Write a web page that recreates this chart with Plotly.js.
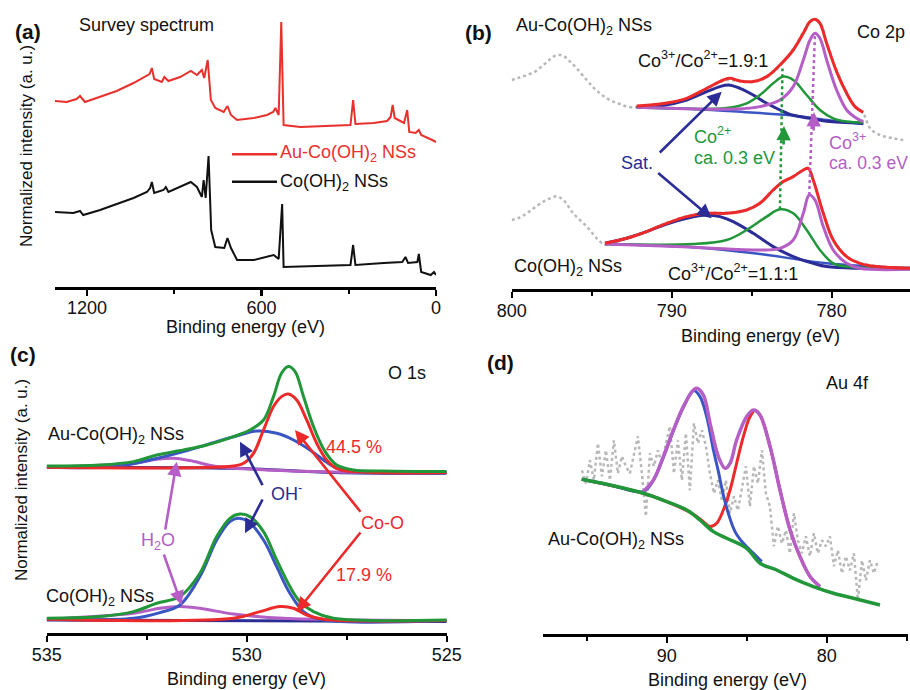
<!DOCTYPE html>
<html>
<head>
<meta charset="utf-8">
<script src="https://cdn.plot.ly/plotly-3.0.1.min.js"></script>
<style>html,body{margin:0;padding:0;background:#fff}#chart{width:910px;height:690px}</style>
</head>
<body>
<div id="chart"></div>
<script>
// ---------- (a) Survey spectrum ----------
const aE_red = [1310,1270,1236,1224,1207,1155,1098,1040,1000,985,977,969,943,934,920,880,843,822,805,797,785,779,774,759,730,717,705,684,627,581,560,552,541,532,524,466,351,294,285,277,214,168,156,149,142,110,99,92,70,59,51,24,13,0];
const aI_red = [186,185,188,191,185,190,196,204,210,213,219,208,205,210,206,210,216,212,217,209,227,207,187,179,175,181,172,167,169,172,175,179,172,265,162,160,161,162,187,163,164,166,170,182,169,164,177,155,154,157,152,149,147,145];
const aE_black = [1310,1247,1224,1213,1155,1098,1040,994,983,977,969,937,929,920,880,843,822,805,799,792,782,776,773,759,728,717,705,684,627,558,541,529,524,409,294,285,277,179,116,105,96,64,59,51,18,7,0];
const aI_black = [75,74,76,72,77,83,89,95,99,105,94,97,100,95,100,105,100,90,107,89,131,87,57,40,39,49,39,27,27,32,28,83,20,21,22,42,22,24,25,30,24,25,33,15,12,15,12];

// ---------- (b) Co 2p ----------
// Au-Co(OH)2 (upper)
const bE_rawU = [800.00,799.48,799.06,798.54,798.02,797.60,797.19,796.77,796.35,795.94,795.31,794.90,794.48,794.06,793.65,793.23,792.81,792.08,790.73,789.06,787.81,786.77,785.73,784.90,784.06,783.23,782.40,781.77,781.25,780.73,780.31,779.69,779.06,778.54,778.02,777.60,776.98,776.15,775.31];
const bI_rawU = [209.3,212,214.3,217.7,224.3,230,234.3,233.3,227.7,221,209.3,202,196,191,187.7,185.3,182.7,182,184.7,190.3,200.3,208.7,208.3,207.3,212,223.7,240,257.3,269.3,266.7,246.7,218.7,196.7,183.3,176,161,154.3,151,148.7];
const bE_sumU = [792.19,790.73,789.06,787.81,786.77,786.35,785.73,784.90,784.06,783.23,782.40,781.77,781.35,781.04,780.73,780.31,779.69,779.06,778.54,778.02];
const bI_sumU = [183.3,185.3,191,201,209.3,211,208.3,207.7,212.7,224.3,239.3,256,267.7,270,266,246,217.7,196,182.7,177];
const bE_bgU = [792.19,788.65,785.52,782.40,780.31,778.02];
const bI_bgU = [182,180.3,177.3,173.7,169.3,165.3];
const bE_satU = [792.19,790.73,789.06,787.81,786.98,786.46,785.73,784.90,784.06,783.23,782.40,781.35,780.31,778.02];
const bI_satU = [182,183.3,189.3,197.7,202.7,204.3,201,194.3,186,179.3,174,171,168,166];
const bE_co2U = [792.19,786.56,785.31,784.48,783.65,783.02,782.40,781.56,780.73,779.90,779.06,778.02];
const bI_co2U = [182,181.3,186,194.3,206,212.7,209.3,194.3,179.3,171,167.7,166.7];
const bE_co3U = [792.19,785.94,784.48,783.23,782.40,781.77,781.35,781.04,780.73,780.31,779.69,779.06,778.44,778.02];
const bI_co3U = [182,180.3,182.7,189.3,202.7,229.3,249.3,256,251,229.3,199.3,179.3,171,167.7];
// Co(OH)2 (lower)
const bE_rawL = [800.00,799.48,799.06,798.54,798.02,797.60,797.19,796.77,796.15,795.31,794.48,794.06,792.81,791.56,790.31,789.06,787.81,786.56,785.31,784.48,783.65,783.02,782.40,781.77,781.46,781.15,780.52,779.90,779.06,778.23,777.19,775.10];
const bI_rawL = [69.3,72,76,82,87.7,91,93,89.3,76,62.7,47.7,44.3,51.5,58,66.5,73,76.5,76.5,80,86.5,99.8,108,113,119.5,121.5,109.5,76.5,49.5,33,26.5,23,21.5];
const bE_sumL = [794.17,792.81,791.56,790.31,789.06,787.81,786.56,785.31,784.48,783.65,783.02,782.40,781.77,781.46,781.15,780.52,779.90,779.06,778.23,777.19,775.10];
const bI_sumL = [46,51,57.7,66,72.7,76,76,79.3,86,99.3,107.7,112.7,119.3,121,109.3,76,49.3,32.7,26,22.7,21];
const bE_bgL = [794.17,788.65,784.48,780.31,775.10];
const bI_bgL = [45.3,42,35.3,26,21];
const bE_satL = [794.17,792.81,791.56,790.31,789.06,787.81,786.98,786.15,784.90,783.65,782.40,781.15,780.31,778.23,775.10];
const bI_satL = [46,51,57.7,65.3,71,74.3,72.7,67.7,56,42.7,32.7,26,22.7,21,21];
const bE_co2L = [794.17,788.65,786.56,785.31,784.06,783.23,782.40,781.56,780.73,779.90,779.06,775.10];
const bI_co2L = [45.3,45.3,49.3,59.3,72.7,80,76,59.3,39.3,26,22.7,20];
const bE_co3L = [794.17,789.69,784.48,783.23,782.40,781.77,781.40,781.04,780.52,779.90,779.06,778.23,775.10];
const bI_co3L = [45.3,42.7,39.3,41,49.3,76,94.3,89.3,62.7,39.3,26,21,20];

// ---------- (c) O 1s ----------
const cE_sumU = [535,533.67,532.83,532.25,531.58,531.0,530.33,529.92,529.58,529.33,529.13,528.96,528.79,528.58,528.33,528.04,527.75,527.33,526.58,525.0];
const cI_sumU = [167.3,168.3,171.7,178.3,183.3,188.3,196.7,203.3,213.3,236.7,260,266.7,261.7,236.7,206.7,181.7,168.3,163.3,162.3,161.7];
const cE_coU = [535,530.33,530.08,529.83,529.58,529.33,529.13,528.96,528.75,528.50,528.25,528.0,527.75,527.33,525.0];
const cI_coU = [166,167.3,170,180,203.3,226.7,236.7,239.3,233.3,213.3,190,173.3,165,161.7,160.7];
const cE_ohU = [535,533.25,532.42,531.58,530.75,530.17,529.75,529.25,528.83,528.42,528.08,527.75,527.33,525.0];
const cI_ohU = [166,166.7,173.3,181.7,191.7,198.3,202.3,200,193.3,183.3,173.3,165,161.7,160.7];
const cE_h2oU = [535,532.83,532.25,531.83,531.42,530.75,529.5,527.83,525.0];
const cI_h2oU = [166,170,174,175,172.7,166.7,163.3,161.3,160.7];
const cE_bgU = [535,530.33,527.83,525.0];
const cI_bgU = [165.7,165,160.7,160];
const cE_sumL = [535,533.67,532.83,532.25,531.67,531.17,530.75,530.42,530.17,529.92,529.58,529.25,528.92,528.67,528.33,527.83,525.0];
const cI_sumL = [15,16.7,21.7,30,36.7,60,96.7,115,119.3,116.7,101.7,73.3,46.7,31.7,21.7,15,13.3];
const cE_ohL = [535,532.83,532.17,531.67,531.17,530.75,530.42,530.21,529.96,529.58,529.25,528.92,528.58,528.17,525.0];
const cI_ohL = [14,15,20.7,28.3,56.7,93.3,111.7,115,111.7,93.3,66.7,40,21.7,14,12.7];
const cE_coL = [535,530.33,529.67,529.17,528.83,528.5,528.08,525.0];
const cI_coL = [14,15,21.7,26.7,25,18.3,14,12.7];
const cE_h2oL = [535,532.83,532.17,531.67,531.17,530.33,529.08,525.0];
const cI_h2oL = [14,20,25,26.7,25,19.3,15,12.7];
const cE_bgL = [535,525];
const cI_bgL = [13.3,11.7];

// ---------- (d) Au 4f ----------
const dE_raw = [95.3,95.05,94.8,94.55,94.3,94.05,93.8,93.55,93.3,93.05,92.8,92.55,92.3,92.05,91.8,91.55,91.3,91.05,90.8,90.55,90.3,90.05,89.8,89.55,89.3,89.05,88.8,88.55,88.3,88.05,87.8,87.55,87.3,87.05,86.8,86.55,86.3,86.05,85.8,85.55,85.3,85.05,84.8,84.55,84.3,84.05,83.8,83.55,83.3,83.05,82.8,82.55,82.3,82.05,81.8,81.55,81.3,81.05,80.8,80.55,80.3,80.05,79.8,79.55,79.3,79.05,78.8,78.55,78.3,78.05,77.8,77.55,77.3,77.05,76.8];
const dI_raw = [164,151,174,154,191,158,184,154,194,161,178,168,161,181,198,161,118,181,168,184,171,191,208,161,194,154,201,144,211,191,204,188,161,141,154,134,154,121,138,124,148,168,128,168,151,184,141,128,88,108,91,104,81,121,94,81,98,78,101,81,94,88,98,68,84,61,78,64,81,34,74,54,74,61,74];
const dE_bg = [95.31,93.54,91.46,90.0,88.75,87.92,87.08,86.25,85.0,84.17,83.13,82.08,80.83,79.58,78.33,76.67];
const dI_bg = [155,149.3,141,132.7,124.3,114.3,102.7,96,86,71,64.3,56,47.7,41,36,29.3];
const dE_sum = [91.46,90.83,90.21,89.58,88.96,88.33,88.13,87.71,87.29,86.77,86.35,86.04,85.63,85.0,84.58,84.17,83.54,82.92,82.29,81.67,81.04,80.42];
const dI_sum = [142.7,154.3,177.7,204.3,227.7,244.3,246,239.3,211,177.7,166,171,194.3,217.7,224.3,219.3,187.7,144.3,104.3,77.7,57.7,47.7];
const dE_52 = [95.31,93.54,91.46,90.83,90.21,89.58,88.96,88.33,87.92,87.5,87.08,86.77,86.46,86.15,85.73,85.21,84.58,84.06];
const dI_52 = [155,149.3,142.7,154,177,203.7,227,243.7,237.7,217.7,184.3,162.7,139.3,121,102.7,91,81,72.7];
const dE_72 = [95.31,91.46,90.0,88.33,87.71,87.29,86.88,86.46,86.04,85.63,85.21,84.79,84.48,84.17,83.54,82.92,82.29,81.67,81.04,80.42];
const dI_72 = [155,141,132.7,120,112.7,107.7,111,124.3,144.3,171,197.7,217.7,223.7,219.3,187.7,144.3,104.3,77.7,57.7,47.7];

// ---------- labels ----------
const xTitle = 'Binding energy (eV)';
const yTitle = 'Normalized intensity (a. u.)';

// ---------- styling ----------
const FONT = 'Liberation Sans, Arial, Helvetica, sans-serif';
const RED = '#ec2a2a', GREEN = '#22973a', NAVY = '#2b2c96', BLUE = '#3a55c4', VIOLET = '#b45ec6', GREY = '#b8b8b8';
const FS = 18;
const W = 910, H = 690;
const PX = x => x / W, PY = y => 1 - y / H;

function tr(x, y, n, color, width, opt) {
  opt = opt || {};
  return {type: 'scatter', mode: 'lines', x: x, y: y, xaxis: 'x' + (n === 1 ? '' : n), yaxis: 'y' + (n === 1 ? '' : n),
    line: {color: color, width: width, shape: opt.shape || 'spline', smoothing: 1, dash: opt.dash || 'solid'},
    hoverinfo: 'skip', showlegend: false};
}

const data = [
  tr(aE_red, aI_red, 1, '#e8302c', 2, {shape: 'linear'}),
  tr(aE_black, aI_black, 1, '#111', 2, {shape: 'linear'}),

  tr(bE_rawU, bI_rawU, 2, GREY, 2.5, {dash: 'dot'}),
  tr(bE_rawL, bI_rawL, 2, GREY, 2.5, {dash: 'dot'}),
  tr(bE_bgU, bI_bgU, 2, BLUE, 2.5),
  tr(bE_bgL, bI_bgL, 2, BLUE, 2.5),
  tr(bE_satU, bI_satU, 2, NAVY, 3),
  tr(bE_satL, bI_satL, 2, NAVY, 3),
  tr(bE_co2U, bI_co2U, 2, GREEN, 2.5),
  tr(bE_co2L, bI_co2L, 2, GREEN, 2.5),
  tr(bE_co3U, bI_co3U, 2, VIOLET, 3),
  tr(bE_co3L, bI_co3L, 2, VIOLET, 3),
  tr(bE_sumU, bI_sumU, 2, RED, 3),
  tr(bE_sumL, bI_sumL, 2, RED, 3),

  tr(cE_bgU, cI_bgU, 3, NAVY, 3),
  tr(cE_bgL, cI_bgL, 3, NAVY, 3),
  tr(cE_h2oU, cI_h2oU, 3, VIOLET, 3),
  tr(cE_h2oL, cI_h2oL, 3, VIOLET, 3),
  tr(cE_ohU, cI_ohU, 3, BLUE, 3),
  tr(cE_ohL, cI_ohL, 3, BLUE, 3),
  tr(cE_coU, cI_coU, 3, RED, 3),
  tr(cE_coL, cI_coL, 3, RED, 3),
  tr(cE_sumU, cI_sumU, 3, GREEN, 3),
  tr(cE_sumL, cI_sumL, 3, GREEN, 3),

  tr(dE_raw, dI_raw, 4, GREY, 2.5, {dash: 'dot', shape: 'linear'}),
  tr(dE_72, dI_72, 4, RED, 3),
  tr(dE_52, dI_52, 4, BLUE, 3),
  tr(dE_sum, dI_sum, 4, VIOLET, 3.5),
  tr(dE_bg, dI_bg, 4, GREEN, 3.5)
];

function xax(l, r, range, dtick, mdtick, anchor) {
  return {domain: [PX(l), PX(r)], anchor: anchor, range: range, tick0: 0, dtick: dtick, ticks: 'outside',
    ticklen: 6, tickwidth: 2.2, tickcolor: '#000', showline: true, linewidth: 2.7, linecolor: '#000',
    showgrid: false, zeroline: false, fixedrange: true, ticklabelstandoff: -3,
    tickfont: {family: FONT, size: FS, color: '#111'},
    minor: {dtick: mdtick, ticks: 'outside', ticklen: 4, tickwidth: 2, tickcolor: '#000', showgrid: false}};
}
function yax(top, bottom, anchor) {
  return {domain: [PY(bottom), PY(top)], range: [0, bottom - top], visible: false, fixedrange: true, anchor: anchor};
}

// peak positions for dotted connectors (from the data)
function peak(xs, ys) { let k = 0; ys.forEach((v, i) => { if (v > ys[k]) k = i; }); return [xs[k], ys[k]]; }
const g1 = peak(bE_co2L, bI_co2L), g2 = peak(bE_co2U, bI_co2U);
const v1 = peak(bE_co3L, bI_co3L), v2 = peak(bE_co3U, bI_co3U);

const shapes = [
  {type: 'line', xref: 'paper', yref: 'paper', x0: PX(232), x1: PX(277), y0: PY(154.3), y1: PY(154.3), line: {color: '#e8302c', width: 2.5}},
  {type: 'line', xref: 'paper', yref: 'paper', x0: PX(232), x1: PX(277), y0: PY(181.7), y1: PY(181.7), line: {color: '#111', width: 2.5}},
  {type: 'line', xref: 'x2', yref: 'y2', x0: g1[0], y0: g1[1], x1: g2[0] + 0.05, y1: g2[1] + 8, line: {color: GREEN, width: 2.5, dash: 'dot'}},
  {type: 'line', xref: 'x2', yref: 'y2', x0: v1[0], y0: v1[1], x1: v2[0], y1: v2[1], line: {color: VIOLET, width: 2.5, dash: 'dot'}}
];

function txt(x, y, s, opt) {
  opt = opt || {};
  return {xref: 'paper', yref: 'paper', x: PX(x), y: PY(y), text: s, showarrow: false,
    xanchor: opt.xa || 'left', yanchor: 'middle', textangle: opt.angle || 0,
    font: {family: FONT, size: opt.size || FS, color: opt.color || '#111'}};
}
function arr(hx, hy, tx, ty, color) {
  return {xref: 'paper', yref: 'paper', x: PX(hx), y: PY(hy), ax: tx - hx, ay: ty - hy, axref: 'pixel', ayref: 'pixel',
    text: '', showarrow: true, arrowhead: 2, arrowsize: 1.1, arrowwidth: 2.6, arrowcolor: color, standoff: 0, startstandoff: 0};
}

const annotations = [
  // (a)
  txt(28, 31, '<b>(a)</b>', {xa: 'center', size: 21}),
  txt(77, 25, 'Survey spectrum'),
  txt(278, 154, 'Au-Co(OH)<sub>2</sub> NSs', {color: '#e8302c'}),
  txt(278, 182, 'Co(OH)<sub>2</sub> NSs'),
  txt(245, 327, xTitle, {xa: 'center'}),
  txt(27, 146, yTitle, {xa: 'center', angle: -90, size: 17}),
  // (b)
  txt(478, 32, '<b>(b)</b>', {xa: 'center', size: 21}),
  txt(514, 27, 'Au-Co(OH)<sub>2</sub> NSs'),
  txt(907, 32, 'Co 2p', {xa: 'right'}),
  txt(636, 60, 'Co<sup>3+</sup>/Co<sup>2+</sup>=1.9:1'),
  txt(692, 135, 'Co<sup>2+</sup>', {color: GREEN}),
  txt(692, 158, 'ca. 0.3 eV', {color: GREEN}),
  txt(827, 142, 'Co<sup>3+</sup>', {color: VIOLET}),
  txt(827, 163, 'ca. 0.3 eV', {color: VIOLET, size: 17.5}),
  txt(619, 163, 'Sat.', {color: NAVY}),
  txt(512, 267, 'Co(OH)<sub>2</sub> NSs'),
  txt(666, 273, 'Co<sup>3+</sup>/Co<sup>2+</sup>=1.1:1'),
  txt(760, 336, xTitle, {xa: 'center'}),
  arr(721.7, 91.7, 658.3, 154, NAVY),
  arr(711.7, 218.3, 656.7, 171.7, NAVY),
  arr(784, 126, 783.5, 146, GREEN),
  arr(814, 112, 813.6, 132, VIOLET),
  // (c)
  txt(23, 355, '<b>(c)</b>', {xa: 'center', size: 21}),
  txt(386, 373, 'O 1s'),
  txt(46, 435, 'Au-Co(OH)<sub>2</sub> NSs'),
  txt(324, 447, '44.5 %', {color: RED}),
  txt(269, 492, 'OH<sup>-</sup>', {color: NAVY}),
  txt(359, 523, 'Co-O', {color: RED}),
  txt(139, 541, 'H<sub>2</sub>O', {color: VIOLET}),
  txt(334, 575, '17.9 %', {color: RED}),
  txt(44, 597, 'Co(OH)<sub>2</sub> NSs'),
  txt(247, 679, xTitle, {xa: 'center'}),
  txt(21, 480, yTitle, {xa: 'center', angle: -90, size: 17}),
  arr(240, 441.7, 263.3, 486.7, NAVY),
  arr(245, 533.3, 263.3, 498, NAVY),
  arr(295, 430, 361.7, 513.3, RED),
  arr(296.7, 611.7, 361.7, 531, RED),
  arr(176.7, 461.7, 165, 531, VIOLET),
  arr(181.7, 605, 163.3, 553, VIOLET),
  // (d)
  txt(500, 362, '<b>(d)</b>', {xa: 'center', size: 21}),
  txt(824, 383, 'Au 4f'),
  txt(546, 540, 'Au-Co(OH)<sub>2</sub> NSs'),
  txt(727, 680, xTitle, {xa: 'center'})
];

const layout = {
  width: W, height: H, margin: {l: 0, r: 0, t: 0, b: 0}, paper_bgcolor: '#fff', plot_bgcolor: 'rgba(0,0,0,0)',
  showlegend: false, font: {family: FONT, size: FS, color: '#111'},
  xaxis: xax(55, 436, [1310, 0], 600, 300, 'y'),
  yaxis: yax(12, 287, 'x'),
  xaxis2: xax(511.7, 910, [800, 775.1], 10, 5, 'y2'),
  yaxis2: yax(10, 289.3, 'x2'),
  xaxis3: xax(46.7, 446.7, [535, 525], 5, 2.5, 'y3'),
  yaxis3: yax(355, 633.3, 'x3'),
  xaxis4: xax(542.7, 908, [97.75, 74.92], 10, 5, 'y4'),
  yaxis4: yax(360, 634.3, 'x4'),
  shapes: shapes, annotations: annotations
};

Plotly.newPlot('chart', data, layout, {staticPlot: true, displayModeBar: false});
</script>
</body>
</html>
